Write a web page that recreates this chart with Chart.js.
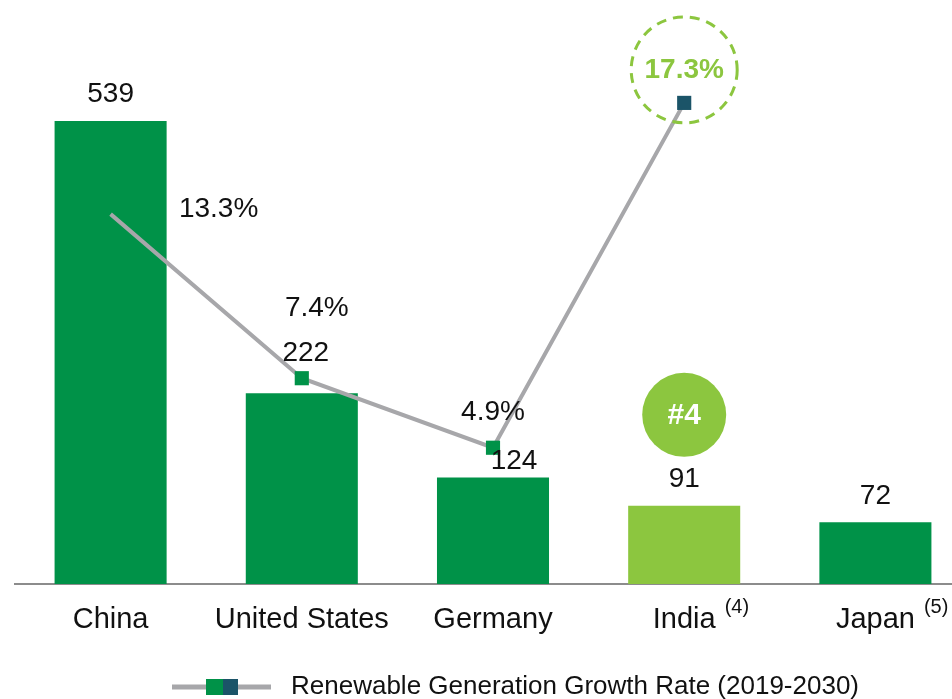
<!DOCTYPE html>
<html>
<head>
<meta charset="utf-8">
<script src="https://cdn.jsdelivr.net/npm/chart.js@4/dist/chart.umd.min.js"></script>
<style>
  html, body { margin: 0; padding: 0; background: #fff; overflow: hidden; font-family: "Liberation Sans", Arial, sans-serif; }
  #wrap { width: 972px; height: 699px; position: relative; }
  #warm { position: absolute; left: -100px; top: -100px; font-family: "Liberation Sans"; }
</style>
</head>
<body>
<div id="warm">Aa <b>Bb</b></div>
<div id="wrap"><canvas id="genChart"></canvas></div>
<script>
// --- data ---
const countries = ['China', 'United States', 'Germany', 'India', 'Japan'];
const footnotes = ['', '', '', '(4)', '(5)'];
const generation = [539, 222, 124, 91, 72];
const growthRate = [13.3, 7.4, 4.9, 17.3, null];
const growthLabels = ['13.3%', '7.4%', '4.9%', '17.3%', ''];
const legendText = 'Renewable Generation Growth Rate (2019-2030)';

const GREEN = '#009248';
const LIGHT = '#8cc63f';
const DARK = '#1b5468';
const GREY = '#a7a7aa';
const FONT = '"Liberation Sans", Arial, sans-serif';

// small nudges so labels sit where the original had them
const valueNudge = [[0, -27], [4, -40], [21, -16], [0, -27], [0, -26]];
const rateNudge = [[108, -5], [15, -70], [0, -35], [0, -33], [0, 0]];

const annotations = {
    id: 'annotations',
    afterDatasetsDraw(chart) {
        const ctx = chart.ctx;
        const x = chart.scales.x, y = chart.scales.y, y1 = chart.scales.y1;
        ctx.save();
        ctx.textAlign = 'center';
        ctx.textBaseline = 'middle';

        // bar values
        ctx.font = '28px ' + FONT;
        ctx.fillStyle = '#111';
        generation.forEach((v, i) => {
            ctx.fillText(String(v), x.getPixelForValue(i) + valueNudge[i][0], y.getPixelForValue(v) + valueNudge[i][1]);
        });

        // growth labels
        growthRate.forEach((v, i) => {
            if (v === null) return;
            const px = x.getPixelForValue(i) + rateNudge[i][0];
            const py = y1.getPixelForValue(v) + rateNudge[i][1];
            if (i === 3) {
                ctx.setLineDash([10, 7]);
                ctx.lineWidth = 3;
                ctx.strokeStyle = LIGHT;
                ctx.beginPath();
                ctx.arc(px, py, 53, 0, Math.PI * 2);
                ctx.stroke();
                ctx.setLineDash([]);
                ctx.font = 'bold 28px ' + FONT;
                ctx.fillStyle = LIGHT;
            } else {
                ctx.font = '28px ' + FONT;
                ctx.fillStyle = '#111';
            }
            ctx.fillText(growthLabels[i], px, py);
        });

        // #4 badge over India
        const ix = x.getPixelForValue(3);
        const iy = y.getPixelForValue(generation[3]) - 91;
        ctx.fillStyle = LIGHT;
        ctx.beginPath();
        ctx.arc(ix, iy, 42, 0, Math.PI * 2);
        ctx.fill();
        ctx.fillStyle = '#fff';
        ctx.font = 'bold 30px ' + FONT;
        ctx.fillText('#4', ix, iy + 1);

        // category labels + footnotes
        const base = chart.chartArea.bottom;
        countries.forEach((c, i) => {
            const cx = x.getPixelForValue(i);
            ctx.font = '29px ' + FONT;
            ctx.fillStyle = '#111';
            ctx.textAlign = 'center';
            ctx.fillText(c, cx, base + 36);
            if (footnotes[i]) {
                const w = ctx.measureText(c).width;
                ctx.font = '20px ' + FONT;
                ctx.textAlign = 'left';
                ctx.fillText(footnotes[i], cx + w / 2 + 9, base + 23);
            }
        });

        // legend
        const ly = 687;
        ctx.strokeStyle = GREY;
        ctx.lineWidth = 5;
        ctx.beginPath();
        ctx.moveTo(172, ly);
        ctx.lineTo(271, ly);
        ctx.stroke();
        ctx.fillStyle = GREEN;
        ctx.fillRect(206, ly - 8, 17, 16);
        ctx.fillStyle = DARK;
        ctx.fillRect(223, ly - 8, 15, 16);
        ctx.font = '26px ' + FONT;
        ctx.fillStyle = '#111';
        ctx.textAlign = 'left';
        ctx.fillText(legendText, 291, ly);
        ctx.restore();
    }
};

const ctx = document.getElementById('genChart').getContext('2d');
new Chart(ctx, {
    type: 'bar',
    data: {
        labels: countries,
        datasets: [
            {
                type: 'line',
                data: growthRate,
                yAxisID: 'y1',
                borderColor: GREY,
                borderWidth: 4,
                pointStyle: 'rect',
                pointRadius: [0, 10, 10, 10, 0],
                pointBackgroundColor: [GREY, GREEN, GREEN, DARK, GREY],
                pointBorderWidth: 0,
                tension: 0,
                order: 0
            },
            {
                data: generation,
                yAxisID: 'y',
                backgroundColor: [GREEN, GREEN, GREEN, LIGHT, GREEN],
                categoryPercentage: 1,
                barPercentage: 0.586,
                order: 1
            }
        ]
    },
    options: {
        responsive: true,
        maintainAspectRatio: false,
        animation: false,
        layout: { padding: { left: 15, right: 1, top: 0, bottom: 107 } },
        plugins: { legend: { display: false }, tooltip: { enabled: false } },
        scales: {
            x: {
                grid: { display: false },
                ticks: { display: false },
                border: { display: true, color: '#8c8c8c', width: 2 }
            },
            y: { display: false, min: 0, max: 680 },
            y1: { display: false, min: 0, max: 21 }
        }
    },
    plugins: [annotations]
});
</script>
</body>
</html>
